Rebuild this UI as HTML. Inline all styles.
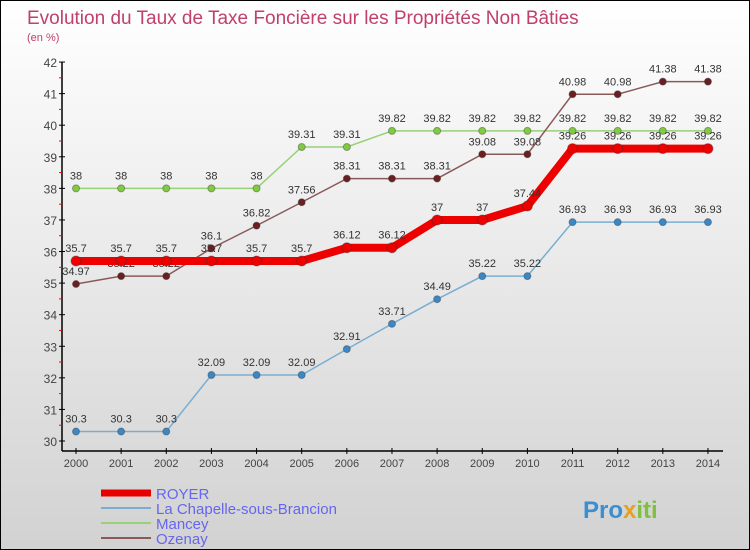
<!DOCTYPE html>
<html><head><meta charset="utf-8"><style>
body{margin:0}
#c{position:relative;width:748px;height:548px;border:1px solid #000;background:linear-gradient(#ffffff,#d2d2d2);overflow:hidden;font-family:"Liberation Sans",sans-serif}
</style></head><body>
<div id="c">
<svg id="s" width="748" height="548" style="position:absolute;left:0;top:0">
<text x="26" y="23" font-size="19" fill="#c0406a">Evolution du Taux de Taxe Foncière sur les Propriétés Non Bâties</text>
<text x="26" y="40" font-size="11" fill="#c0406a">(en %)</text>
<g id="axes"></g><g id="series"></g>
<g>
<line x1="100" y1="492" x2="150" y2="492" stroke="#e80000" stroke-width="7"/>
<text x="155" y="498" font-size="15" fill="#6666ee">ROYER</text>
<line x1="100" y1="507" x2="150" y2="507" stroke="#7aaed0" stroke-width="2"/>
<text x="155" y="513" font-size="15" fill="#6666ee">La Chapelle-sous-Brancion</text>
<line x1="100" y1="522" x2="150" y2="522" stroke="#99d07a" stroke-width="2"/>
<text x="155" y="528" font-size="15" fill="#6666ee">Mancey</text>
<line x1="100" y1="537" x2="150" y2="537" stroke="#8a5a5a" stroke-width="2"/>
<text x="155" y="543" font-size="15" fill="#6666ee">Ozenay</text>
</g>
<text x="582" y="517" font-size="24" font-weight="bold" fill="#3a8fd0">Pro<tspan fill="#e8a020">x</tspan><tspan fill="#80c040">iti</tspan></text>
</svg>
</div>
<script>
const years=[2000,2001,2002,2003,2004,2005,2006,2007,2008,2009,2010,2011,2012,2013,2014];
const yTicks=[30,31,32,33,34,35,36,37,38,39,40,41,42];
const royer=[35.7,35.7,35.7,35.7,35.7,35.7,36.12,36.12,37,37,37.44,39.26,39.26,39.26,39.26];
const chapelle=[30.3,30.3,30.3,32.09,32.09,32.09,32.91,33.71,34.49,35.22,35.22,36.93,36.93,36.93,36.93];
const mancey=[38,38,38,38,38,39.31,39.31,39.82,39.82,39.82,39.82,39.82,39.82,39.82,39.82];
const ozenay=[34.97,35.22,35.22,36.1,36.82,37.56,38.31,38.31,38.31,39.08,39.08,40.98,40.98,41.38,41.38];
const NS="http://www.w3.org/2000/svg";
function xS(i){return 75+i*45.14;}
function yS(v){return 440-(v-30)*31.58;}
function mk(t,a,p){const e=document.createElementNS(NS,t);for(const k in a)e.setAttribute(k,a[k]);p.appendChild(e);return e;}
const ax=document.getElementById('axes');
let l=mk('line',{x1:61,y1:61,x2:61,y2:450,stroke:'#000','stroke-width':1.5},ax);


l=mk('line',{x1:61,y1:450,x2:722,y2:450,stroke:'#000','stroke-width':1.5},ax);


yTicks.forEach((v,i)=>{
 mk('line',{x1:58,y1:yS(v),x2:64,y2:yS(v),stroke:'#000'},ax);
 if(i<yTicks.length-1)mk('line',{x1:58,y1:yS(v+0.5),x2:61,y2:yS(v+0.5),stroke:'#f00'},ax);
 const t=mk('text',{x:56,y:yS(v)+5,'font-size':12,'text-anchor':'end',fill:'#444'},ax);t.textContent=v;
 
 
});
years.forEach((y,i)=>{
 mk('line',{x1:xS(i),y1:447,x2:xS(i),y2:453,stroke:'#000'},ax);
 const t=mk('text',{x:xS(i),y:466,'font-size':11,'text-anchor':'middle',fill:'#444'},ax);t.textContent=y;
 
 
});
const sg=document.getElementById('series');
function draw(data,name,color,w,r,dot){
 const g=mk('g',{},sg);
 
 
 const pl=mk('polyline',{points:data.map((v,i)=>xS(i)+','+yS(v)).join(' '),fill:'none',stroke:color,'stroke-width':w},g);
 
 
 data.forEach((v,i)=>{
  const c=mk('circle',{cx:xS(i),cy:yS(v),r:r,fill:dot,stroke:'#333','stroke-opacity':0.4},g);
  
  
  const t=mk('text',{x:xS(i),y:yS(v)-9,'font-size':11,'text-anchor':'middle',fill:'#333'},g);t.textContent=v;
  
  
 });
}
draw(chapelle,'chapelle','#7aaed0',1.5,3.5,'#3a88c8');
draw(mancey,'mancey','#99d07a',1.5,3.5,'#80cc40');
draw(ozenay,'ozenay','#8a5a5a',1.5,3.5,'#6a2020');
draw(royer,'royer','#ee0000',8,5,'#ee0000');
</script>
</body></html>
